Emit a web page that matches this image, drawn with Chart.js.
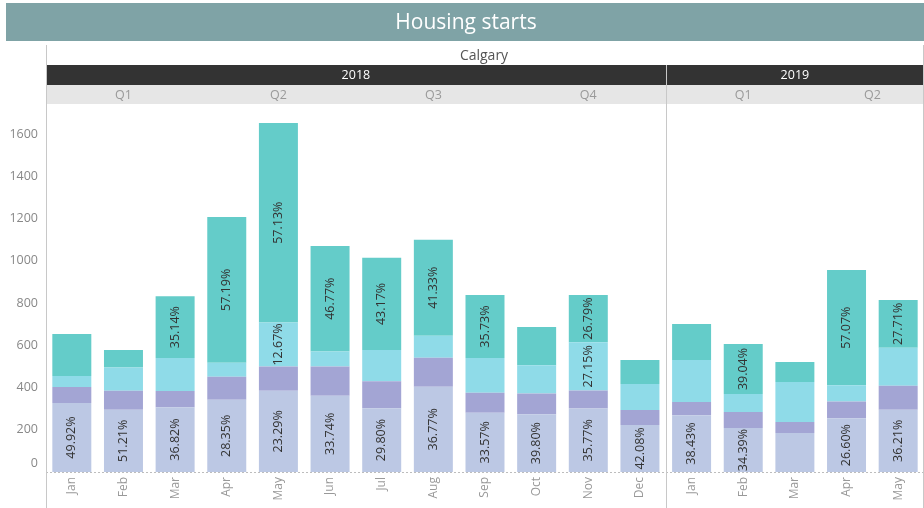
<!DOCTYPE html>
<html><head><meta charset="utf-8">
<script src="https://cdn.jsdelivr.net/npm/chart.js@4.4.1/dist/chart.umd.min.js"></script>
<style>html,body{margin:0;padding:0;background:#fff;overflow:hidden}#wrap{position:relative;width:924px;height:508px}</style>
</head><body><div id="wrap"><canvas id="c" width="924" height="508"></canvas></div>
<script>
const titleText = 'Housing starts';
const cityName = 'Calgary';
const months = ['Jan','Feb','Mar','Apr','May','Jun','Jul','Aug','Sep','Oct','Nov','Dec','Jan','Feb','Mar','Apr','May'];
const years = ['2018','2018','2018','2018','2018','2018','2018','2018','2018','2018','2018','2018','2019','2019','2019','2019','2019'];
const quarters = ['Q1','Q1','Q1','Q2','Q2','Q2','Q3','Q3','Q3','Q4','Q4','Q4','Q1','Q1','Q1','Q2','Q2'];
const yTicks = [0,200,400,600,800,1000,1200,1400,1600];
const seriesNames = ['Single','Semi','Row','Apartment'];

const single = [326,295,307,342,385,361,302,404,281,273,300,223,269,208,185,254,295];
const semi   = [76,90,76,109,114,138,128,137,94,99,86,71,62,76,52,80,113];
const row    = [52,110,156,66,209,71,147,104,164,133,228,123,199,85,189,76,180];
const apt    = [199,82,293,690,944,500,437,454,299,181,224,113,170,237,95,546,226];

const singleLbl = ['49.92%','51.21%','36.82%','28.35%','23.29%','33.74%','29.80%','36.77%','33.57%','39.80%','35.77%','42.08%','38.43%','34.39%',null,'26.60%','36.21%'];
const semiLbl   = [null,null,null,null,null,null,null,null,null,null,null,null,null,null,null,null,null];
const rowLbl    = [null,null,null,null,'12.67%',null,null,null,null,null,'27.15%',null,null,null,null,null,null];
const aptLbl    = [null,null,'35.14%','57.19%','57.13%','46.77%','43.17%','41.33%','35.73%',null,'26.79%',null,null,'39.04%',null,'57.07%','27.71%'];

const colors = ['#bcc8e4','#a3a5d4','#8fdbe8','#64ccc9'];
const FONT = '"Open Sans", "Liberation Sans", sans-serif';

const segLabels = [singleLbl, semiLbl, rowLbl, aptLbl];

const deco = {
  id: 'deco',
  beforeDraw(chart) {
    const ctx = chart.ctx;
    const ca = chart.chartArea;
    const xs = chart.scales.x;
    const n = months.length;
    const cw = (ca.right - ca.left) / n;
    ctx.save();
    ctx.fillStyle = '#fff';
    ctx.fillRect(0, 0, chart.width, chart.height);
    // title bar
    ctx.fillStyle = '#7fa3a6';
    ctx.fillRect(6, 3, 918, 38);
    ctx.fillStyle = '#ffffff';
    ctx.font = '500 21px ' + FONT;
    ctx.textAlign = 'center';
    ctx.textBaseline = 'middle';
    ctx.fillText(titleText, 466, 23);
    // city
    ctx.fillStyle = '#555';
    ctx.font = '14px ' + FONT;
    ctx.fillText(cityName, (ca.left + ca.right) / 2 - 1, 56);
    // year band
    ctx.fillStyle = '#333333';
    ctx.fillRect(ca.left, 65, ca.right - ca.left, 20);
    ctx.fillStyle = '#e6e6e6';
    ctx.fillRect(ca.left, 85, ca.right - ca.left, 19);
    const groups = (keyFn) => {
      const g = [];
      for (let i = 0; i < n; i++) {
        const k = keyFn(i);
        if (g.length && g[g.length - 1].k === k) g[g.length - 1].e = i;
        else g.push({k, s: i, e: i});
      }
      return g;
    };
    const yg = groups(i => years[i]);
    ctx.font = '12.5px ' + FONT;
    ctx.fillStyle = '#fff';
    yg.forEach(g => {
      const l = xs.getPixelForValue(g.s) - cw / 2, r = xs.getPixelForValue(g.e) + cw / 2;
      ctx.fillText(g.k, (l + r) / 2, 75.5);
    });
    const qg = groups(i => years[i] + '|' + quarters[i]);
    ctx.fillStyle = '#999';
    qg.forEach(g => {
      const l = xs.getPixelForValue(g.s) - cw / 2, r = xs.getPixelForValue(g.e) + cw / 2;
      ctx.fillText(g.k.split('|')[1], (l + r) / 2, 95);
    });
    ctx.restore();
  },
  afterDatasetsDraw(chart) {
    const ctx = chart.ctx;
    const ca = chart.chartArea;
    const xs = chart.scales.x, ys = chart.scales.y;
    const n = months.length;
    const cw = (ca.right - ca.left) / n;
    ctx.save();
    // segment labels
    ctx.font = '12.5px ' + FONT;
    ctx.fillStyle = '#333';
    ctx.textAlign = 'center';
    ctx.textBaseline = 'middle';
    segLabels.forEach((arr, di) => {
      const meta = chart.getDatasetMeta(di);
      meta.data.forEach((el, i) => {
        if (!arr[i]) return;
        const cy = (el.y + el.base) / 2;
        ctx.save();
        ctx.translate(el.x, cy);
        ctx.rotate(-Math.PI / 2);
        ctx.fillText(arr[i], 0, 0);
        ctx.restore();
      });
    });
    // baseline dashed
    ctx.strokeStyle = '#bdbdbd';
    ctx.lineWidth = 1;
    ctx.setLineDash([2, 2]);
    ctx.beginPath();
    const by = Math.round(ys.getPixelForValue(0)) + 0.5;
    ctx.moveTo(ca.left, by); ctx.lineTo(ca.right, by);
    ctx.stroke();
    ctx.setLineDash([]);
    // y tick labels
    ctx.fillStyle = '#888';
    ctx.font = '12.5px ' + FONT;
    ctx.textAlign = 'right';
    yTicks.forEach(v => {
      let py = ys.getPixelForValue(v);
      py = Math.min(py, ca.bottom - 9);
      ctx.fillText(String(v), 38, py);
    });
    // x labels
    ctx.fillStyle = '#999';
    ctx.font = '12px ' + FONT;
    ctx.textAlign = 'right';
    months.forEach((m, i) => {
      const px = xs.getPixelForValue(i);
      ctx.save();
      ctx.translate(px, ca.bottom + 5);
      ctx.rotate(-Math.PI / 2);
      ctx.fillText(m, 0, 0);
      ctx.restore();
    });
    // borders
    ctx.strokeStyle = '#c8c8c8';
    ctx.beginPath();
    ctx.moveTo(ca.left + 0.5, 45); ctx.lineTo(ca.left + 0.5, 508);
    ctx.moveTo(ca.right - 0.5, 45); ctx.lineTo(ca.right - 0.5, 508);
    for (let i = 1; i < n; i++) {
      if (years[i] !== years[i - 1]) {
        const x = Math.round(xs.getPixelForValue(i) - cw / 2) + 0.5;
        ctx.moveTo(x, 65); ctx.lineTo(x, 508);
      }
    }
    ctx.stroke();
    ctx.restore();
  }
};

new Chart(document.getElementById('c'), {
  type: 'bar',
  data: {
    labels: months,
    datasets: [
      {label: seriesNames[0], data: single, backgroundColor: colors[0]},
      {label: seriesNames[1], data: semi, backgroundColor: colors[1]},
      {label: seriesNames[2], data: row, backgroundColor: colors[2]},
      {label: seriesNames[3], data: apt, backgroundColor: colors[3]}
    ]
  },
  options: {
    responsive: false,
    animation: false,
    devicePixelRatio: 1,
    layout: {padding: {left: 46, right: 0, top: 105, bottom: 36}},
    datasets: {bar: {barPercentage: 0.755, categoryPercentage: 1.0, borderWidth: 0}},
    scales: {
      x: {display: false, stacked: true},
      y: {display: false, stacked: true, min: 0, max: 1737}
    },
    plugins: {legend: {display: false}, tooltip: {enabled: false}}
  },
  plugins: [deco]
});
</script>
</body></html>
